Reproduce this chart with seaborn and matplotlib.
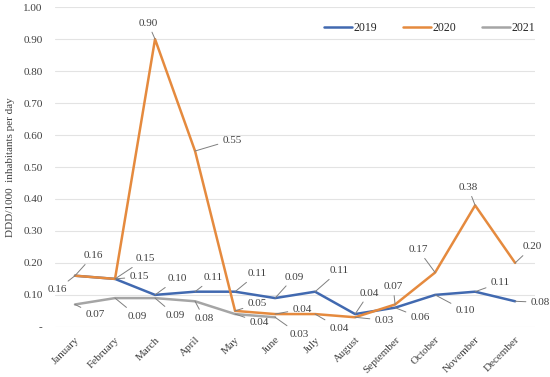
import numpy as np
import pandas as pd
import matplotlib
matplotlib.use("Agg")
import matplotlib.pyplot as plt
import seaborn as sns

months = ["January", "February", "March", "April", "May", "June", "July",
          "August", "September", "October", "November", "December"]
v2019 = [0.16, 0.15, 0.10, 0.11, 0.11, 0.09, 0.11, 0.04, 0.06, 0.10, 0.11, 0.08]
v2020 = [0.16, 0.15, 0.90, 0.55, 0.05, 0.04, 0.04, 0.03, 0.07, 0.17, 0.38, 0.20]
v2021 = [0.07, 0.09, 0.09, 0.08, 0.04, 0.03]

# label offsets in pixels (dx, dy) for each point
off2019 = [(-18, -14), (24, 2), (22, 16), (18, 14), (22, 18), (19, 21),
           (24, 21), (14, 21), (25, -10), (30, -16), (25, 9), (25, -1)]
off2020 = [(18, 20), (30, 20), (-7, 16), (37, 11), (22, 7), (27, 5),
           (24, -14), (29, -3), (-2, 18), (-17, 23), (-7, 18), (17, 16)]
off2021 = [(20, -10), (22, -18), (20, -17), (9, -17), (24, -8), (24, -17)]

rows = []
for yr, vals in (("2019", v2019), ("2020", v2020), ("2021", v2021)):
    for i, v in enumerate(vals):
        rows.append({"month": i, "value": v, "year": yr})
df = pd.DataFrame(rows)

sns.set_theme(style="white")
plt.rcParams["font.family"] = ["Liberation Serif", "DejaVu Serif"]

fig = plt.figure(figsize=(5.5, 3.77), dpi=100)
ax = fig.add_axes([0.1, 0.133, 0.873, 0.848])

palette = {"2019": "#4169B0", "2020": "#E58A3E", "2021": "#A5A5A5"}
sns.lineplot(data=df, x="month", y="value", hue="year", palette=palette,
             linewidth=1.8, sort=False, ax=ax, legend=True)
# gray under orange
for line in ax.lines:
    if line.get_label() == "2021":
        line.set_zorder(1.5)

ax.set_xlim(-0.5, 11.5)
ax.set_ylim(0, 1.0)
yt = np.round(np.arange(0, 1.01, 0.1), 2)
ax.set_yticks(yt)
ax.set_yticklabels(["-"] + [f"{t:.2f}" for t in yt[1:]], fontsize=8, color="#404040")
ax.set_xticks(range(12))
ax.set_xticklabels(months, rotation=45, ha="right", rotation_mode="anchor",
                   fontsize=8, color="#404040")
ax.tick_params(axis="y", length=0, pad=9)
ax.tick_params(axis="x", length=0, pad=6)
ax.grid(axis="y", color="#E3E3E3", linewidth=0.8)
for s in ax.spines.values():
    s.set_visible(False)
ax.set_xlabel("")
ax.set_ylabel("DDD/1000  inhabitants per day", fontsize=8, color="#404040", labelpad=6)

for vals, offs in ((v2019, off2019), (v2020, off2020), (v2021, off2021)):
    for i, (v, (dx, dy)) in enumerate(zip(vals, offs)):
        ax.annotate(f"{v:.2f}", xy=(i, v), xytext=(dx, dy),
                    textcoords="offset pixels", fontsize=8, color="#404040",
                    ha="center", va="center",
                    arrowprops=dict(arrowstyle="-", color="#7F7F7F", lw=0.7,
                                    shrinkA=1, shrinkB=0))

leg = ax.legend(loc="center", bbox_to_anchor=(0.78, 0.934), ncol=3, frameon=False,
                fontsize=8.5, handlelength=2.4, handletextpad=0.1, columnspacing=2.2)
for h in leg.get_lines():
    h.set_linewidth(1.8)

fig.savefig("out.png", dpi=100)
